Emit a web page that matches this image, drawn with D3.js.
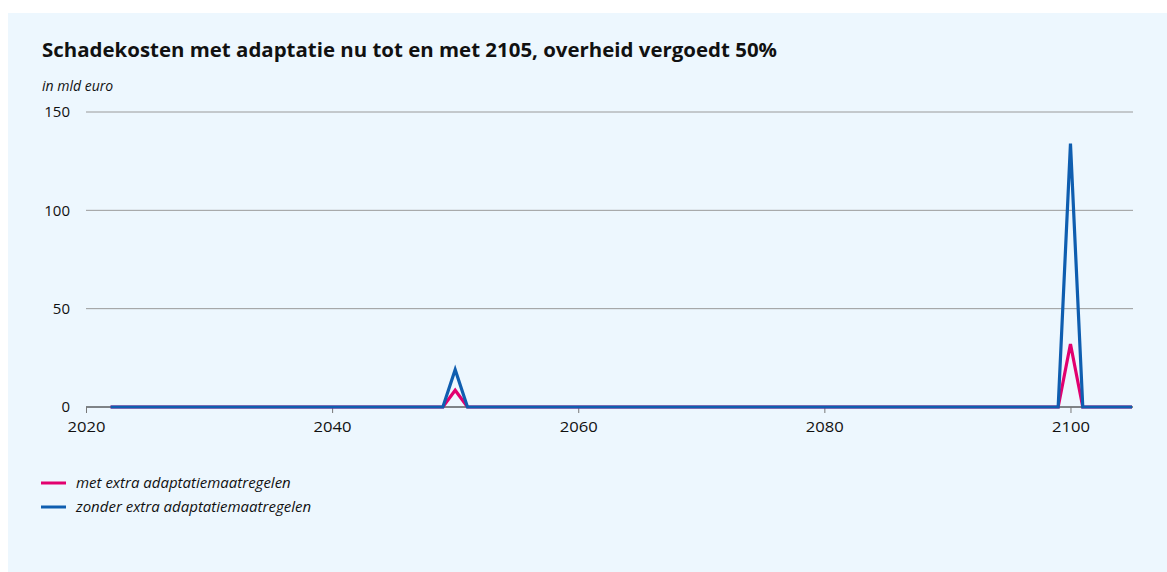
<!DOCTYPE html>
<html><head><meta charset="utf-8">
<script src="https://cdn.jsdelivr.net/npm/d3@7"></script>
<style>
html,body{margin:0;padding:0;background:#fff;}
svg{display:block;font-family:"Open Sans",sans-serif;}
</style></head>
<body>
<svg id="chart" width="1167" height="572"></svg>
<script>
const years = d3.range(2022, 2106);
// met extra adaptatiemaatregelen (mld euro)
const metExtra = [
  0,0,0,0,0,0,0,0,0,0,      // 2022-2031
  0,0,0,0,0,0,0,0,0,0,      // 2032-2041
  0,0,0,0,0,0,0,0,8.5,0,    // 2042-2051
  0,0,0,0,0,0,0,0,0,0,      // 2052-2061
  0,0,0,0,0,0,0,0,0,0,      // 2062-2071
  0,0,0,0,0,0,0,0,0,0,      // 2072-2081
  0,0,0,0,0,0,0,0,0,0,      // 2082-2091
  0,0,0,0,0,0,0,0,32,0,     // 2092-2101
  0,0,0,0                   // 2102-2105
];
// zonder extra adaptatiemaatregelen (mld euro)
const zonderExtra = [
  0,0,0,0,0,0,0,0,0,0,
  0,0,0,0,0,0,0,0,0,0,
  0,0,0,0,0,0,0,0,19,0,
  0,0,0,0,0,0,0,0,0,0,
  0,0,0,0,0,0,0,0,0,0,
  0,0,0,0,0,0,0,0,0,0,
  0,0,0,0,0,0,0,0,0,0,
  0,0,0,0,0,0,0,0,134,0,
  0,0,0,0
];
const xTicks = [2020, 2040, 2060, 2080, 2100];
const yTicks = [0, 50, 100, 150];
const seriesNames = ["met extra adaptatiemaatregelen", "zonder extra adaptatiemaatregelen"];
const seriesColors = ["#e2006f", "#0f5eb0"];
const title = "Schadekosten met adaptatie nu tot en met 2105, overheid vergoedt 50%";
const unitLabel = "in mld euro";

const svg = d3.select("#chart");
svg.append("rect").attr("x", 8).attr("y", 13).attr("width", 1159).attr("height", 559).attr("fill", "#edf7fe");

const x = d3.scaleLinear().domain([2020, 2105]).range([86, 1132]);
const y = d3.scaleLinear().domain([0, 150]).range([407, 112]);

svg.append("text").attr("x", 42).attr("y", 57).attr("font-size", 20).attr("font-weight", 700)
  .attr("fill", "#111").attr("textLength", 735).attr("lengthAdjust", "spacingAndGlyphs").text(title);
svg.append("text").attr("x", 42).attr("y", 91).attr("font-size", 14).attr("font-style", "italic")
  .attr("fill", "#111").text(unitLabel);

// grid lines
svg.append("g").selectAll("line").data(yTicks.filter(d => d > 0)).join("line")
  .attr("x1", 86).attr("x2", 1133).attr("y1", d => y(d)).attr("y2", d => y(d))
  .attr("stroke", "#9a9a9a").attr("stroke-width", 1);

// y labels
svg.append("g").selectAll("text").data(yTicks).join("text")
  .attr("x", 70).attr("y", d => y(d)).attr("dy", "0.35em").attr("text-anchor", "end")
  .attr("font-size", 15).attr("fill", "#111").text(d => d);

// x axis
const xAxis = d3.axisBottom(x).tickValues(xTicks).tickFormat(d3.format("d")).tickSize(6).tickPadding(8);
const gx = svg.append("g").attr("transform", `translate(0,${y(0)})`).call(xAxis);
gx.select(".domain").attr("stroke", "#111").attr("stroke-width", 1).attr("d", `M86,0H1133`);
gx.selectAll(".tick line").attr("stroke", "#777");
gx.selectAll(".tick text").attr("font-size", 15).attr("fill", "#111").attr("font-family", "Open Sans, sans-serif")
  .attr("textLength", 38).attr("lengthAdjust", "spacingAndGlyphs");

const line = d3.line().x((d, i) => x(years[i])).y(d => y(d));
svg.append("path").datum(metExtra).attr("d", line).attr("fill", "none")
  .attr("stroke", seriesColors[0]).attr("stroke-width", 3.2).attr("stroke-linejoin", "miter");
svg.append("path").datum(zonderExtra).attr("d", line).attr("fill", "none")
  .attr("stroke", seriesColors[1]).attr("stroke-width", 3.2).attr("stroke-linejoin", "miter");

// legend
const lg = svg.append("g");
seriesNames.forEach((n, i) => {
  const yy = 483 + i * 24;
  lg.append("line").attr("x1", 41).attr("x2", 66).attr("y1", yy).attr("y2", yy)
    .attr("stroke", seriesColors[i]).attr("stroke-width", 3);
  lg.append("text").attr("x", 76).attr("y", yy).attr("dy", "0.35em").attr("font-size", 15)
    .attr("font-style", "italic").attr("fill", "#111").text(n);
});
</script>
</body></html>
